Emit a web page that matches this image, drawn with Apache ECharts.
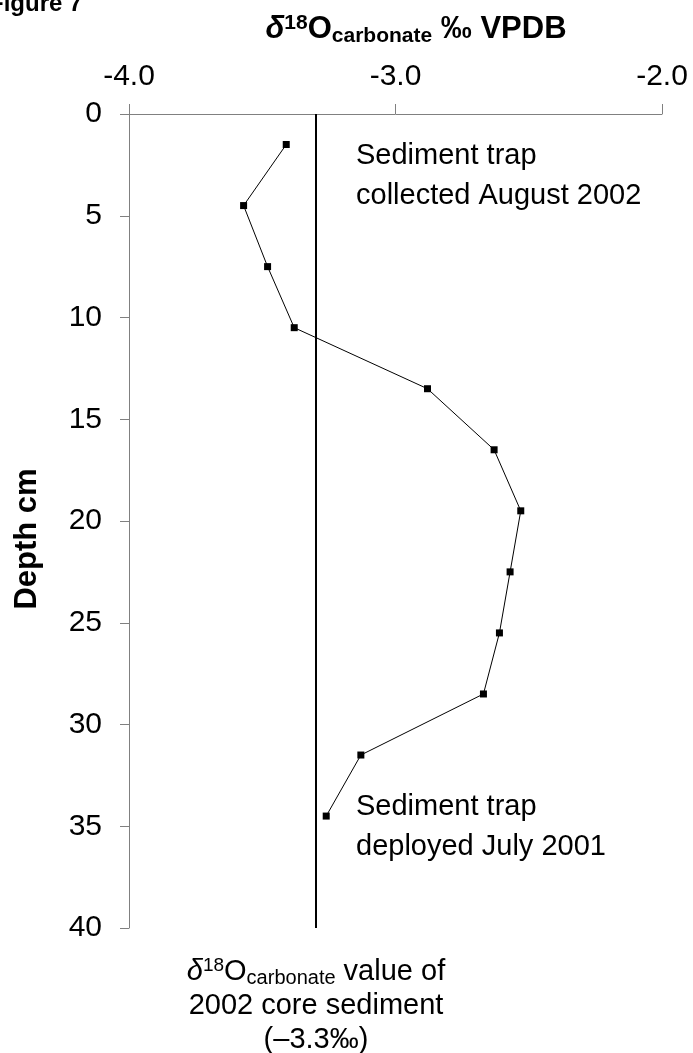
<!DOCTYPE html>
<html><head><meta charset="utf-8">
<script src="https://cdn.jsdelivr.net/npm/echarts@6/dist/echarts.min.js"></script>
<style>html,body{margin:0;padding:0;background:#fff}#c{width:693px;height:1053px}</style>
</head><body><div id="c"></div>
<script>
const depths = [1.5, 4.5, 7.5, 10.5, 13.5, 16.5, 19.5, 22.5, 25.5, 28.5, 31.5, 34.5];
const d18O = [-3.41, -3.57, -3.48, -3.38, -2.88, -2.63, -2.53, -2.57, -2.61, -2.67, -3.13, -3.26];
const coreValue = -3.3;
const xTicks = { min: -4, max: -2, interval: 1 };
const yTicks = { min: 0, max: 40, interval: 5 };

const FF = '"Liberation Sans", Arial, sans-serif';
const AX = '#808080';
const chart = echarts.init(document.getElementById('c'));
chart.setOption({
  animation: false,
  backgroundColor: '#fff',
  grid: { left: 129, right: 31, top: 114, bottom: 125 },
  xAxis: {
    type: 'value', position: 'top',
    min: xTicks.min, max: xTicks.max, interval: xTicks.interval,
    axisLine: { show: true, lineStyle: { color: AX, width: 1 } },
    axisTick: { show: true, inside: false, length: 10, lineStyle: { color: AX } },
    axisLabel: { formatter: v => v.toFixed(1), fontSize: 30, fontFamily: FF, color: '#000', margin: 22 },
    splitLine: { show: false }
  },
  yAxis: {
    type: 'value', inverse: true,
    min: yTicks.min, max: yTicks.max, interval: yTicks.interval,
    axisLine: { show: true, lineStyle: { color: AX, width: 1 } },
    axisTick: { show: true, inside: false, length: 9, lineStyle: { color: AX } },
    axisLabel: { fontSize: 30, fontFamily: FF, color: '#000', margin: 27 },
    splitLine: { show: false }
  },
  series: [{
    type: 'line',
    data: depths.map((d, i) => [d18O[i], d]),
    symbol: 'rect', symbolSize: 7,
    itemStyle: { color: '#000' },
    lineStyle: { color: '#000', width: 1 },
    markLine: {
      silent: true, symbol: 'none', label: { show: false },
      lineStyle: { color: '#000', width: 2, type: 'solid' },
      data: [{ xAxis: coreValue }]
    }
  }],
  graphic: [
    { type: 'text', x: -11, y: 4, style: { text: 'Figure 7', fontSize: 24, fontWeight: 'bold', fontFamily: FF, fill: '#000', verticalAlign: 'middle' } },
    { type: 'text', x: 416, y: 29, style: {
      text: '{d|δ}{sup|18}{b|O}{sub|carbonate}{b| ‰ VPDB}',
      align: 'center', verticalAlign: 'middle', fill: '#000',
      rich: {
        d: { fontSize: 31, fontWeight: 'bold', fontStyle: 'italic', fontFamily: FF },
        b: { fontSize: 31, fontWeight: 'bold', fontFamily: FF },
        sup: { fontSize: 21, fontWeight: 'bold', fontFamily: FF, padding: [0, 0, 12, 0] },
        sub: { fontSize: 21, fontWeight: 'bold', fontFamily: FF, padding: [14, 0, 0, 0] }
      }
    } },
    { type: 'text', x: 27, y: 539, rotation: Math.PI / 2, style: {
      text: 'Depth cm', fontSize: 31, fontWeight: 'bold', fontFamily: FF, fill: '#000', align: 'center', verticalAlign: 'middle' } },
    { type: 'text', x: 356, y: 176, style: {
      text: 'Sediment trap\ncollected August 2002', fontSize: 29, fontFamily: FF, fill: '#000',
      lineHeight: 40, align: 'left', verticalAlign: 'middle' } },
    { type: 'text', x: 356, y: 827, style: {
      text: 'Sediment trap\ndeployed July 2001', fontSize: 29, fontFamily: FF, fill: '#000',
      lineHeight: 40, align: 'left', verticalAlign: 'middle' } },
    { type: 'text', x: 316, y: 1006, style: {
      text: '{d|δ}{sup|18}{n|O}{sub|carbonate}{n| value of}\n{n|2002 core sediment}\n{n|(–3.3‰)}',
      align: 'center', verticalAlign: 'middle', fill: '#000',
      rich: {
        d: { fontSize: 29, fontStyle: 'italic', fontFamily: FF, lineHeight: 34 },
        n: { fontSize: 29, fontFamily: FF, lineHeight: 34 },
        sup: { fontSize: 19, fontFamily: FF, padding: [0, 0, 12, 0], lineHeight: 34 },
        sub: { fontSize: 20, fontFamily: FF, padding: [12, 0, 0, 0], lineHeight: 34 }
      }
    } }
  ]
});
</script></body></html>
